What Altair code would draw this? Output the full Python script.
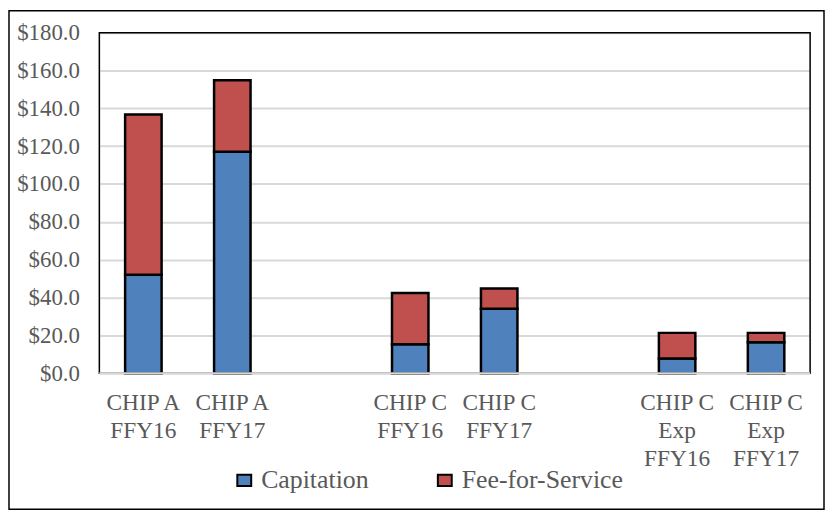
import altair as alt
import pandas as pd

# ---- data ----
categories = ["CHIP A|FFY16", "CHIP A|FFY17", "gap1",
              "CHIP C|FFY16", "CHIP C|FFY17", "gap2",
              "CHIP C|Exp|FFY16", "CHIP C|Exp|FFY17"]
bar_categories = ["CHIP A|FFY16", "CHIP A|FFY17",
                  "CHIP C|FFY16", "CHIP C|FFY17",
                  "CHIP C|Exp|FFY16", "CHIP C|Exp|FFY17"]
capitation = [52.0, 117.0, 15.3, 34.0, 7.8, 16.3]
fee_for_service = [84.8, 37.8, 27.1, 10.7, 13.5, 5.0]
series = ["Capitation", "Fee-for-Service"]
colors = ["#4F81BD", "#C0504D"]
y_ticks = [0, 20, 40, 60, 80, 100, 120, 140, 160, 180]

rows = []
for c, a, b in zip(bar_categories, capitation, fee_for_service):
    rows.append({"cat": c, "series": series[0], "value": a, "ord": 0})
    rows.append({"cat": c, "series": series[1], "value": b, "ord": 1})
df = pd.DataFrame(rows)

W, H = 716, 343
FONT = "Liberation Serif"
GREY = "#595959"

x_enc = alt.X(
    "cat:N",
    sort=categories,
    scale=alt.Scale(domain=categories, paddingInner=0.59, paddingOuter=0.29),
    axis=alt.Axis(
        title=None,
        labelExpr="indexof(datum.value,'gap')==0 ? '' : split(datum.value,'|')",
        labelAngle=0, ticks=False, tickSize=0, domain=False, grid=False,
        labelFont=FONT, labelFontSize=23.5, labelColor=GREY,
        labelLineHeight=28, labelPadding=18, labelBaseline="top",
    ),
)
y_enc = alt.Y(
    "value:Q",
    stack="zero",
    scale=alt.Scale(domain=[0, 180], nice=False),
    axis=alt.Axis(
        title=None, values=y_ticks, format="$.1f",
        ticks=False, tickSize=0, domain=False,
        grid=True, gridColor="#d9d9d9", gridWidth=2,
        labelFont=FONT, labelFontSize=23, labelColor=GREY, labelPadding=20,
    ),
)

bars = alt.Chart(df).mark_bar(stroke="black", strokeWidth=2.5).encode(
    x=x_enc,
    y=y_enc,
    color=alt.Color(
        "series:N",
        scale=alt.Scale(domain=series, range=colors),
        legend=alt.Legend(
            title=None, orient="none", legendX=133, legendY=438,
            direction="horizontal", columns=2, padding=0,
            symbolType="M-1,-0.8L1,-0.8L1,0.8L-1,0.8Z", symbolSize=196,
            symbolStrokeColor="black", symbolStrokeWidth=2,
            symbolOpacity=1,
            labelFont=FONT, labelFontSize=26, labelColor=GREY,
            labelOffset=4, labelLimit=400, columnPadding=63,
        ),
    ),
    order=alt.Order("ord:Q"),
)

one = alt.Data(values=[{"k": 1}])

frame = alt.Chart(one).mark_rect(
    fillOpacity=0, stroke="black", strokeWidth=1.5
).encode(x=alt.value(0), x2=alt.value(W), y=alt.value(0), y2=alt.value(H))

outer = alt.Chart(one).mark_rect(
    fillOpacity=0, stroke="black", strokeWidth=1.5
).encode(x=alt.value(-91), x2=alt.value(730), y=alt.value(-22), y2=alt.value(480))

bottom = alt.Chart(one).mark_rule(color="#d9d9d9", strokeWidth=2).encode(
    x=alt.value(0), x2=alt.value(W), y=alt.value(H)
)

chart = alt.layer(outer, frame, bars, bottom).properties(
    width=W, height=H, padding=0
).configure_view(stroke=None).configure(background="white")

chart.save("out.html", embed_options={"renderer": "svg", "actions": False})
